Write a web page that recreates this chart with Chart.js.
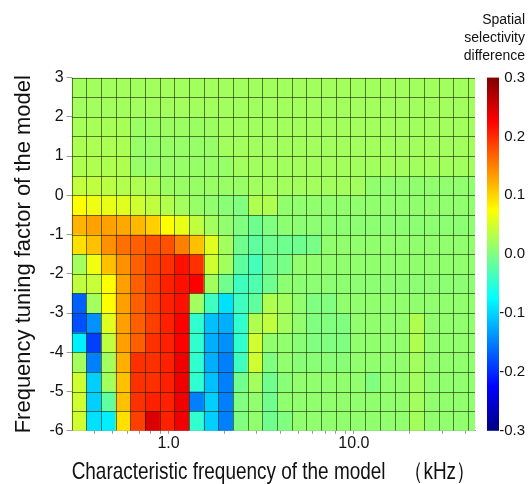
<!DOCTYPE html>
<html>
<head>
<meta charset="utf-8">
<script src="https://cdn.jsdelivr.net/npm/chart.js@4.4.0/dist/chart.umd.min.js"></script>
<style>
  html, body { margin: 0; padding: 0; background: #fff; }
  #wrap { width: 531px; height: 484px; }
</style>
</head>
<body>
<div id="wrap"><canvas id="chart"></canvas></div>
<script>
// column edges: characteristic frequency of the model (kHz)
const cfEdges = [0.3, 0.36, 0.432, 0.518, 0.622, 0.746, 0.896, 1.075, 1.29, 1.548,
  1.858, 2.229, 2.675, 3.21, 3.852, 4.622, 5.547, 6.656, 7.987, 9.584,
  11.50, 13.80, 16.56, 19.87, 23.85, 28.62, 34.34, 41.21, 45];
// row edges: frequency tuning factor, top to bottom
const tuningEdges = [3, 2.5, 2, 1.5, 1, 0.5, 0, -0.5, -1, -1.5, -2, -2.5, -3, -3.5, -4, -4.5, -5, -5.5, -6];

// spatial selectivity difference, one row per tuning band (top -> bottom), 28 CF columns
const diffRows = [
  [0.02,0.02,0.02,0.02,0.02,0.02,0.02,0.02,0.02,0.02,0.02,0.02,0.02,0.02,0.02,0.02,0.02,0.02,0.02,0.02,0.02,0.02,0.02,0.02,0.02,0.02,0.02,0.02],
  [0.02,0.02,0.02,0.02,0.02,0.02,0.02,0.02,0.02,0.02,0.02,0.02,0.02,0.02,0.02,0.02,0.02,0.02,0.02,0.02,0.02,0.02,0.02,0.02,0.02,0.02,0.02,0.02],
  [0.024,0.024,0.024,0.024,0.016,0.016,0.016,0.016,0.016,0.016,0.02,0.02,0.02,0.02,0.02,0.02,0.02,0.02,0.02,0.02,0.02,0.02,0.02,0.02,0.02,0.02,0.02,0.02],
  [0.026,0.026,0.026,0.026,0.014,0.014,0.014,0.014,0.014,0.014,0.02,0.02,0.02,0.02,0.02,0.02,0.02,0.02,0.02,0.02,0.02,0.02,0.02,0.02,0.02,0.02,0.02,0.02],
  [0.028,0.028,0.028,0.028,0.014,0.014,0.014,0.014,0.014,0.014,0.014,0.02,0.02,0.02,0.02,0.02,0.02,0.02,0.02,0.02,0.02,0.02,0.02,0.02,0.02,0.02,0.02,0.02],
  [0.04,0.038,0.035,0.03,0.028,0.025,0.016,0.015,0.015,0.015,0.015,0.015,0.02,0.02,0.02,0.02,0.02,0.02,0.02,0.02,0.01,0.01,0.01,0.01,0.01,0.01,0.01,0.01],
  [0.075,0.066,0.062,0.057,0.047,0.038,0.03,0.02,0.015,0.01,0.005,0.0,0.028,0.028,0.01,0.01,0.01,0.01,0.01,0.01,0.01,0.01,0.01,0.01,0.01,0.01,0.01,0.01],
  [0.12,0.13,0.13,0.126,0.117,0.103,0.075,0.062,0.038,0.02,0.01,0.0,-0.01,0.0,0.008,0.008,0.008,0.008,0.008,0.008,0.008,0.008,0.008,0.008,0.008,0.008,0.008,0.008],
  [0.093,0.112,0.14,0.159,0.169,0.178,0.178,0.15,0.112,0.057,0.02,-0.009,-0.019,-0.01,-0.01,-0.01,-0.005,0.01,0.01,0.01,0.01,0.01,0.01,0.01,0.01,0.01,0.01,0.01],
  [0.02,0.066,0.112,0.14,0.169,0.188,0.197,0.216,0.197,0.047,0.02,-0.019,-0.035,-0.01,-0.005,0.01,0.01,0.01,0.01,0.01,0.01,0.01,0.01,0.01,0.01,0.01,0.01,0.01],
  [0.038,0.043,0.075,0.131,0.169,0.188,0.206,0.216,0.225,0.02,-0.009,-0.038,-0.028,-0.01,0.008,0.008,0.008,0.008,0.008,0.008,0.008,0.008,0.008,0.008,0.008,0.008,0.008,0.008],
  [-0.169,0.02,0.075,0.131,0.169,0.188,0.206,0.216,0.02,-0.038,-0.093,-0.038,-0.019,0.028,0.02,0.01,0.0,0.0,0.01,0.01,0.01,0.01,0.01,0.01,0.01,0.01,0.01,0.01],
  [-0.178,-0.14,0.057,0.131,0.169,0.188,0.206,0.225,-0.047,-0.112,-0.122,-0.047,0.028,0.038,0.02,0.01,0.0,0.0,0.0,0.01,0.01,0.01,0.01,0.028,0.01,0.01,0.01,0.01],
  [-0.084,-0.188,0.038,0.131,0.169,0.197,0.206,0.225,-0.047,-0.122,-0.14,-0.047,0.047,0.01,0.01,0.005,0.0,0.0,0.0,0.01,0.01,0.01,0.01,0.028,0.01,0.01,0.01,0.01],
  [0.02,-0.15,0.02,0.122,0.197,0.197,0.206,0.234,-0.047,-0.122,-0.15,-0.038,0.047,0.0,0.01,0.005,0.005,0.005,0.005,0.01,0.01,0.01,0.01,0.02,0.01,0.01,0.01,0.01],
  [0.047,-0.103,0.02,0.112,0.197,0.197,0.206,0.234,-0.047,-0.112,-0.15,-0.009,0.02,-0.009,0.005,0.01,0.01,0.01,0.01,0.01,0.0,0.01,0.01,0.02,0.01,0.01,0.01,0.01],
  [0.047,-0.103,-0.019,0.112,0.197,0.206,0.206,0.234,-0.15,-0.103,-0.15,0.0,0.01,-0.009,0.01,0.01,0.01,0.01,0.01,0.01,0.01,0.01,0.01,0.02,0.01,0.01,0.01,0.01],
  [0.047,-0.093,-0.084,0.093,0.188,0.248,0.206,0.234,-0.047,-0.103,-0.15,0.0,0.01,-0.009,0.0,0.01,0.01,0.01,0.01,0.01,0.01,0.01,0.01,0.022,0.01,0.01,0.01,0.01]
];

const xTickValues = [0.4, 0.5, 0.6, 0.7, 0.8, 0.9, 1, 2, 3, 4, 5, 6, 7, 8, 9, 10, 20, 30, 40];
const xTickLabels = { 1: "1.0", 10: "10.0" };
const barMin = -0.3, barMax = 0.3;
const barTitle = ["Spatial", "selectivity", "difference"];

const FONT = "'Liberation Sans', Arial, sans-serif";

function jet(v) {
  const t = Math.min(1, Math.max(0, (v - barMin) / (barMax - barMin)));
  const ch = k => Math.round(255 * Math.min(1, Math.max(0, 1.5 - Math.abs(4 * t - k))));
  return `rgb(${ch(3)},${ch(2)},${ch(1)})`;
}

const heatmap = {
  id: "heatmap",
  beforeDatasetsDraw(chart) {
    const { ctx, chartArea: a, scales: { x, y, c } } = chart;
    ctx.save();
    ctx.beginPath();
    ctx.rect(a.left, a.top, a.width, a.height);
    ctx.clip();
    diffRows.forEach((row, i) => {
      const y0 = y.getPixelForValue(tuningEdges[i]);
      const y1 = y.getPixelForValue(tuningEdges[i + 1]);
      row.forEach((v, j) => {
        const x0 = x.getPixelForValue(cfEdges[j]);
        const x1 = x.getPixelForValue(cfEdges[j + 1]);
        ctx.fillStyle = jet(v);
        ctx.fillRect(x0, y0, x1 - x0 + 0.5, y1 - y0 + 0.5);
      });
    });
    // cell borders
    ctx.strokeStyle = "rgba(20,40,0,0.6)";
    ctx.lineWidth = 1;
    ctx.beginPath();
    cfEdges.forEach(e => {
      const px = Math.round(x.getPixelForValue(e)) + 0.5;
      ctx.moveTo(px, a.top); ctx.lineTo(px, a.bottom);
    });
    tuningEdges.forEach(e => {
      const py = Math.round(y.getPixelForValue(e)) + 0.5;
      ctx.moveTo(a.left, py); ctx.lineTo(a.right, py);
    });
    ctx.stroke();
    ctx.restore();

    // colour bar
    const top = c.getPixelForValue(barMax), bottom = c.getPixelForValue(barMin);
    const grad = ctx.createLinearGradient(0, bottom, 0, top);
    for (let s = 0; s <= 8; s++) {
      grad.addColorStop(s / 8, jet(barMin + (barMax - barMin) * s / 8));
    }
    ctx.fillStyle = grad;
    ctx.fillRect(c.left + 12, top, 12, bottom - top);
  }
};

new Chart(document.getElementById("chart"), {
  type: "scatter",
  data: { datasets: [{ data: [] }] },
  plugins: [heatmap],
  options: {
    responsive: true,
    maintainAspectRatio: false,
    animation: false,
    layout: { padding: { left: 4, right: 6, top: 0, bottom: 0 } },
    plugins: {
      legend: { display: false },
      tooltip: { enabled: false },
      title: {
        display: true,
        text: barTitle,
        align: "end",
        color: "#111",
        font: { family: FONT, size: 14, weight: "normal", lineHeight: 1.3 },
        padding: { top: 11, bottom: 12 }
      }
    },
    scales: {
      x: {
        type: "logarithmic",
        min: cfEdges[0],
        max: cfEdges[cfEdges.length - 1],
        afterBuildTicks: s => { s.ticks = xTickValues.map(v => ({ value: v })); },
        ticks: {
          autoSkip: false,
          maxRotation: 0,
          color: "#111",
          padding: 0,
          font: { family: FONT, size: 16 },
          callback: v => xTickLabels[v] || ""
        },
        grid: { drawOnChartArea: false, tickLength: 3, color: "#999" },
        border: { display: true, color: "#999" },
        title: {
          display: true,
          text: "Characteristic frequency of the model\u3000（kHz）",
          color: "#111",
          font: { family: FONT, size: 24, lineHeight: 1.0 },
          padding: { top: 7, bottom: 0 }
        }
      },
      y: {
        type: "linear",
        min: -6,
        max: 3,
        ticks: { stepSize: 1, color: "#111", padding: 3, font: { family: FONT, size: 16 } },
        grid: { drawOnChartArea: false, tickLength: 5, color: "#999" },
        border: { display: false },
        title: {
          display: true,
          text: "Frequency tuning factor of the model",
          color: "#111",
          font: { family: FONT, size: 22 },
          padding: { top: 7, bottom: 9 }
        }
      },
      c: {
        type: "linear",
        position: "right",
        min: barMin,
        max: barMax,
        afterFit: s => { s.width = 50; },
        ticks: {
          stepSize: 0.1,
          color: "#111",
          padding: 24,
          crossAlign: "far",
          font: { family: FONT, size: 15 },
          callback: v => v.toFixed(1)
        },
        grid: { display: false },
        border: { display: false }
      }
    }
  }
});
</script>
</body>
</html>
